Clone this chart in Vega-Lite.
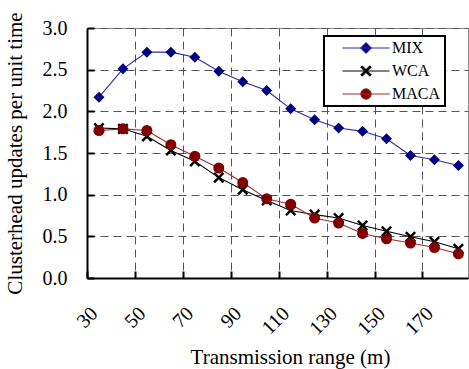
{
  "$schema": "https://vega.github.io/schema/vega-lite/v6.json",
  "autosize": "none",
  "width": 381,
  "height": 250,
  "padding": {"left": 87, "top": 28, "right": 1, "bottom": 91},
  "background": "white",
  "config": {
    "view": {"stroke": "#8c8c8c", "strokeWidth": 1},
    "font": "Times New Roman, Liberation Serif, serif",
    "axis": {
      "labelFont": "Times New Roman, Liberation Serif, serif",
      "labelFontSize": 20,
      "labelColor": "black",
      "titleFont": "Times New Roman, Liberation Serif, serif",
      "titleFontSize": 21,
      "titleFontWeight": "normal",
      "titleColor": "black",
      "domainColor": "black",
      "domainWidth": 2,
      "tickColor": "black",
      "tickWidth": 2,
      "tickSize": -7,
      "gridColor": "#555555",
      "gridDash": [8, 5],
      "gridWidth": 1,
      "gridOpacity": 1
    },
    "legend": {
      "labelFont": "Times New Roman, Liberation Serif, serif"
    }
  },
  "data": {
    "values": [
      {"series": "MIX", "x": 35, "y": 2.17},
      {"series": "MIX", "x": 45, "y": 2.51},
      {"series": "MIX", "x": 55, "y": 2.71},
      {"series": "MIX", "x": 65, "y": 2.71},
      {"series": "MIX", "x": 75, "y": 2.65},
      {"series": "MIX", "x": 85, "y": 2.48},
      {"series": "MIX", "x": 95, "y": 2.355},
      {"series": "MIX", "x": 105, "y": 2.25},
      {"series": "MIX", "x": 115, "y": 2.03},
      {"series": "MIX", "x": 125, "y": 1.9},
      {"series": "MIX", "x": 135, "y": 1.8},
      {"series": "MIX", "x": 145, "y": 1.76},
      {"series": "MIX", "x": 155, "y": 1.67},
      {"series": "MIX", "x": 165, "y": 1.47},
      {"series": "MIX", "x": 175, "y": 1.42},
      {"series": "MIX", "x": 185, "y": 1.35},
      {"series": "WCA", "x": 35, "y": 1.8},
      {"series": "WCA", "x": 45, "y": 1.79},
      {"series": "WCA", "x": 55, "y": 1.7},
      {"series": "WCA", "x": 65, "y": 1.53},
      {"series": "WCA", "x": 75, "y": 1.4},
      {"series": "WCA", "x": 85, "y": 1.205},
      {"series": "WCA", "x": 95, "y": 1.06},
      {"series": "WCA", "x": 105, "y": 0.93},
      {"series": "WCA", "x": 115, "y": 0.81},
      {"series": "WCA", "x": 125, "y": 0.76},
      {"series": "WCA", "x": 135, "y": 0.72},
      {"series": "WCA", "x": 145, "y": 0.63},
      {"series": "WCA", "x": 155, "y": 0.56},
      {"series": "WCA", "x": 165, "y": 0.495},
      {"series": "WCA", "x": 175, "y": 0.435},
      {"series": "WCA", "x": 185, "y": 0.35},
      {"series": "MACA", "x": 35, "y": 1.77},
      {"series": "MACA", "x": 45, "y": 1.79},
      {"series": "MACA", "x": 55, "y": 1.77},
      {"series": "MACA", "x": 65, "y": 1.6},
      {"series": "MACA", "x": 75, "y": 1.46},
      {"series": "MACA", "x": 85, "y": 1.32},
      {"series": "MACA", "x": 95, "y": 1.145},
      {"series": "MACA", "x": 105, "y": 0.95},
      {"series": "MACA", "x": 115, "y": 0.885},
      {"series": "MACA", "x": 125, "y": 0.72},
      {"series": "MACA", "x": 135, "y": 0.66},
      {"series": "MACA", "x": 145, "y": 0.535},
      {"series": "MACA", "x": 155, "y": 0.47},
      {"series": "MACA", "x": 165, "y": 0.42},
      {"series": "MACA", "x": 175, "y": 0.365},
      {"series": "MACA", "x": 185, "y": 0.29}
    ]
  },
  "encoding": {
    "x": {
      "field": "x",
      "type": "quantitative",
      "scale": {"domain": [30, 189], "nice": false, "zero": false},
      "axis": {
        "title": "Transmission range (m)",
        "values": [30, 50, 70, 90, 110, 130, 150, 170],
        "labelAngle": -45,
        "labelPadding": 32,
        "labelFlush": false,
        "labelOverlap": false,
        "titlePadding": 8,
        "titleX": 203
      }
    },
    "y": {
      "field": "y",
      "type": "quantitative",
      "scale": {"domain": [0, 3], "nice": false},
      "axis": {
        "title": "Clusterhead updates per unit time",
        "values": [0, 0.5, 1, 1.5, 2, 2.5, 3],
        "format": ".1f",
        "labelPadding": 27,
        "labelFlush": false,
        "titlePadding": 17
      }
    }
  },
  "layer": [
    {
      "mark": {"type": "line", "strokeWidth": 1.1},
      "encoding": {
        "detail": {"field": "series"},
        "stroke": {
          "field": "series",
          "type": "nominal",
          "scale": {"domain": ["MIX", "WCA", "MACA"], "range": ["#2b2ba3", "#000000", "#a32a2a"]},
          "legend": null
        }
      }
    },
    {
      "transform": [{"filter": "datum.series === 'MIX'"}],
      "mark": {"type": "point", "filled": true, "opacity": 1, "size": 121, "strokeWidth": 0, "shape": "diamond"},
      "encoding": {
        "fill": {"field": "series", "type": "nominal", "legend": null,
          "scale": {"domain": ["MIX", "WCA", "MACA"], "range": ["#000080", "#000000", "#800000"]}}
      }
    },
    {
      "transform": [{"filter": "datum.series === 'WCA'"}],
      "mark": {"type": "point", "filled": true, "opacity": 1, "size": 121, "strokeWidth": 0, "shape": "M-1.01,-0.69L-0.69,-1.01L1.01,0.69L0.69,1.01ZM-1.01,0.69L0.69,-1.01L1.01,-0.69L-0.69,1.01Z"},
      "encoding": {
        "fill": {"field": "series", "type": "nominal", "legend": null}
      }
    },
    {
      "transform": [{"filter": "datum.series === 'MACA'"}],
      "mark": {"type": "point", "filled": true, "opacity": 1, "size": 121, "strokeWidth": 0, "shape": "circle"},
      "encoding": {
        "fill": {"field": "series", "type": "nominal", "legend": null}
      }
    },
    {
      "mark": {"type": "point", "filled": true, "opacity": 0, "size": 100, "strokeWidth": 0},
      "encoding": {
        "color": {
          "field": "series",
          "type": "nominal",
          "scale": {"domain": ["MIX", "WCA", "MACA"], "range": ["#000080", "#000000", "#800000"]},
          "legend": {
            "title": " ",
            "titleOrient": "left",
            "titleFontSize": 1,
            "titlePadding": 12,
            "orient": "none",
            "legendX": 237,
            "legendY": 8,
            "padding": 4,
            "fillColor": "white",
            "strokeColor": "black",
            "labelFont": "Times New Roman, Liberation Serif, serif",
            "labelFontSize": 16,
            "labelColor": "black",
            "labelExpr": "datum.label + '    '",
            "symbolSize": 100,
            "symbolOffset": 18,
            "labelOffset": 18,
            "rowPadding": 7,
            "symbolOpacity": 1,
            "encode": {
              "legend": {"update": {"strokeWidth": {"value": 2}}},
              "symbols": {
                "update": {
                  "shape": {"signal": "datum.value === 'MIX' ? 'M-4.7,0H4.7M0,-1.1L1.1,0L0,1.1L-1.1,0Z' : datum.value === 'WCA' ? 'M-4.7,0H4.7M-1.04,-0.76L-0.76,-1.04L1.04,0.76L0.76,1.04ZM-1.04,0.76L0.76,-1.04L1.04,-0.76L-0.76,1.04Z' : 'M-4.7,0H4.7M1.05,0A1.05,1.05,0,1,1,-1.05,0A1.05,1.05,0,1,1,1.05,0Z'"},
                  "fill": {"signal": "datum.value === 'MIX' ? '#000080' : datum.value === 'WCA' ? '#000000' : '#800000'"},
                  "stroke": {"signal": "datum.value === 'MIX' ? '#2b2ba3' : datum.value === 'WCA' ? '#000000' : '#a32a2a'"},
                  "strokeWidth": {"value": 1},
                  "opacity": {"value": 1}
                }
              }
            }
          }
        }
      }
    }
  ],
  "resolve": {"scale": {"color": "independent", "fill": "shared"}, "legend": {"color": "independent"}}
}
